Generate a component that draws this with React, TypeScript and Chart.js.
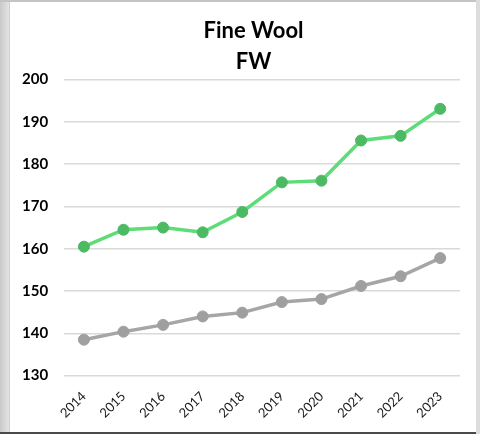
import React, { useEffect, useRef } from "react";
import { Chart, registerables } from "chart.js";

Chart.register(...registerables);

const years = ["2014", "2015", "2016", "2017", "2018", "2019", "2020", "2021", "2022", "2023"];
const fineWool = [160.5, 164.5, 165.0, 163.9, 168.7, 175.7, 176.1, 185.6, 186.7, 193.1];
const baseline = [138.5, 140.4, 142.0, 144.0, 144.9, 147.4, 148.1, 151.2, 153.5, 157.8];
const titleLines = ["Fine Wool", "FW"];

const TITLE_CENTER_X = 253.5;

const shiftTitle = {
  id: "shiftTitle",
  afterLayout(chart: any) {
    const t = chart.titleBlock;
    if (t) {
      const dx = TITLE_CENTER_X - (t.left + t.right) / 2;
      t.left += dx;
      t.right += dx;
    }
  },
};

export default function App() {
  const ref = useRef<HTMLCanvasElement | null>(null);

  useEffect(() => {
    document.body.style.margin = "0";
    if (!ref.current) return;
    const chart = new Chart(ref.current, {
      type: "line",
      data: {
        labels: years,
        datasets: [
          {
            label: "Fine Wool",
            data: fineWool,
            borderColor: "#5ddc78",
            backgroundColor: "#4cb963",
            pointBackgroundColor: "#4cb963",
            pointBorderColor: "#4cb963",
            borderWidth: 3.5,
            pointRadius: 5.5,
            pointBorderWidth: 1,
            tension: 0,
          },
          {
            label: "Baseline",
            data: baseline,
            borderColor: "#a6a6a6",
            backgroundColor: "#9f9f9f",
            pointBackgroundColor: "#9f9f9f",
            pointBorderColor: "#9f9f9f",
            borderWidth: 3.5,
            pointRadius: 5.5,
            pointBorderWidth: 1,
            tension: 0,
          },
        ],
      },
      options: {
        animation: false,
        responsive: false,
        maintainAspectRatio: false,
        layout: { padding: { left: 6, right: 20, top: 0, bottom: 0 } },
        plugins: {
          legend: { display: false },
          tooltip: { enabled: false },
          title: {
            display: true,
            text: titleLines,
            color: "#000000",
            font: { family: "Lato", size: 22, weight: "bold", lineHeight: 1.4 },
            padding: { top: 16, bottom: 2 },
          },
        },
        scales: {
          x: {
            offset: true,
            grid: { display: false, drawTicks: false },
            border: { display: false },
            ticks: {
              color: "#1a1a1a",
              font: { family: "Lato", size: 13 },
              maxRotation: 45,
              minRotation: 45,
              padding: 13,
            },
          },
          y: {
            min: 130,
            max: 200,
            grid: { color: "#d9d9d9", lineWidth: 1.5, drawTicks: false },
            border: { display: false },
            ticks: {
              stepSize: 10,
              color: "#000000",
              font: { family: "Lato", size: 15, weight: "bold" },
              padding: 16,
            },
          },
        },
      },
      plugins: [shiftTitle],
    });
    return () => chart.destroy();
  }, []);

  return (
    <div style={{ position: "relative", width: 480, height: 434, overflow: "hidden", background: "#b8b8b8" }}>
      <div style={{ position: "absolute", left: 0, top: 0, width: 9, height: 434, background: "linear-gradient(90deg,#c9c9c9,#e4e4e4)" }} />
      <div style={{ position: "absolute", left: 0, top: 0, width: 480, height: 2, background: "#c4c4c4" }} />
      <div style={{ position: "absolute", left: 0, top: 432, width: 480, height: 2, background: "#4a4a4a" }} />
      <div style={{ position: "absolute", left: 476, top: 0, width: 4, height: 434, background: "#dddddd" }} />
      <div style={{ position: "absolute", left: 9, top: 2, width: 467, height: 430, background: "#ffffff", borderLeft: "1px solid #d0d0d0", boxSizing: "border-box" }} />
      <canvas ref={ref} width={480} height={434} style={{ position: "absolute", left: 0, top: 0, width: 480, height: 434 }} />
    </div>
  );
}
